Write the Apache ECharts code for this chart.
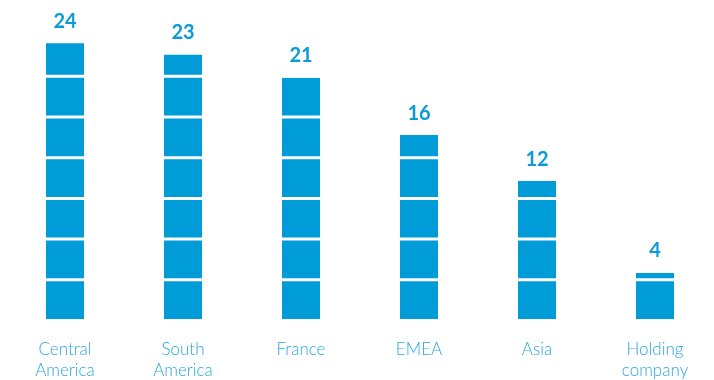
<!DOCTYPE html>
<html>
<head>
<meta charset="utf-8">
<script src="https://cdn.jsdelivr.net/npm/echarts@6/dist/echarts.min.js"></script>
<style>html,body{margin:0;padding:0;background:#fff}#c{width:714px;height:380px}</style>
</head>
<body>
<div id="c"></div>
<script>
var categories = ['Central\nAmerica', 'South\nAmerica', 'France', 'EMEA', 'Asia', 'Holding\ncompany'];
var values = [24, 23, 21, 16, 12, 4];

var chart = echarts.init(document.getElementById('c'), null, {renderer: 'canvas'});
chart.setOption({
  animation: false,
  grid: {left: 6, right: 0, top: 11, bottom: 61, containLabel: false, outerBoundsMode: 'none'},
  xAxis: {
    type: 'category',
    data: categories,
    axisLine: {show: false},
    axisTick: {show: false},
    axisLabel: {
      margin: 20,
      color: '#2aa7e0',
      fontFamily: 'Lato',
      fontWeight: 300,
      fontSize: 17,
      lineHeight: 21
    }
  },
  yAxis: {
    type: 'value',
    min: 0,
    max: 26.8,
    show: false,
    splitLine: {show: false}
  },
  series: [{
    type: 'pictorialBar',
    data: values,
    symbol: 'rect',
    symbolRepeat: 'fixed',
    symbolClip: true,
    symbolSize: [38, 37.7],
    symbolMargin: 2,
    symbolBoundingData: 24.53,
    itemStyle: {color: '#009cd8'},
    z: 2
  }, {
    type: 'bar',
    data: values,
    barWidth: 38,
    barGap: '-100%',
    itemStyle: {color: 'rgba(0,0,0,0)'},
    silent: true,
    z: 1,
    label: {
      show: true,
      position: 'top',
      distance: 12,
      color: '#0a9bd8',
      fontFamily: 'Lato',
      fontWeight: 'bold',
      fontSize: 20
    }
  }]
});
</script>
</body>
</html>
